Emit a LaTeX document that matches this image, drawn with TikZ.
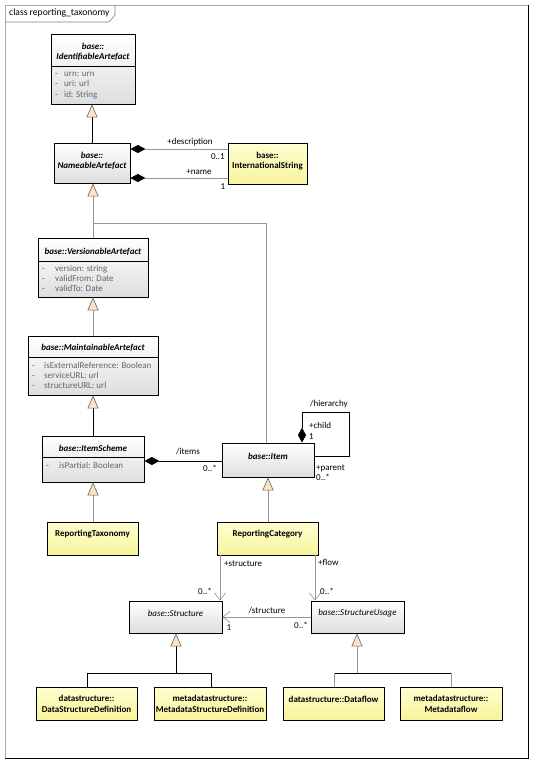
\documentclass[tikz,border=0pt]{standalone}
\usepackage{fontspec}
\setmainfont{Carlito}
\usetikzlibrary{arrows.meta,shadows}

\definecolor{gline}{RGB}{150,150,150}
\definecolor{attrc}{RGB}{95,102,108}
\definecolor{genfill}{RGB}{250,228,200}
\definecolor{genline}{RGB}{110,100,90}
\definecolor{absbot}{RGB}{222,222,222}
\definecolor{yeltop}{RGB}{255,255,210}
\definecolor{yelbot}{RGB}{248,243,155}

\tikzset{
  box/.style={draw=black, line width=0.8pt, rectangle, inner sep=0pt,
    drop shadow={shadow xshift=1.2pt, shadow yshift=-1.2pt, fill=black!55, opacity=0.7}},
  absbox/.style={box, top color=white, bottom color=absbot},
  yelbox/.style={box, top color=yeltop, bottom color=yelbot},
  ttl/.style={inner sep=0pt, align=center, font=\fontsize{9}{10.5}\selectfont\bfseries\itshape},
  ttli/.style={inner sep=0pt, align=center, font=\fontsize{9}{10.5}\selectfont\itshape},
  ttly/.style={inner sep=0pt, align=center, font=\fontsize{9}{10.5}\selectfont\bfseries},
  attr/.style={inner sep=0pt, anchor=west, text height=6.5pt, text depth=1.8pt, text=attrc, font=\fontsize{9}{10}\selectfont},
  lbl/.style={inner sep=0pt, text height=6.5pt, text depth=1.8pt, font=\fontsize{9}{10}\selectfont},
  blk/.style={draw=black, line width=0.8pt},
  gry/.style={draw=gline, line width=0.8pt},
  gen/.style={-{Triangle[length=13pt,width=11pt,fill=genfill,color=genline,line width=0.6pt]}},
  comp/.style={{Diamond[length=15pt,width=8pt,fill=black,color=black]}-},
  nav/.style={-{Straight Barb[length=7pt,width=11pt,line width=0.7pt]}},
}

\begin{document}
\begin{tikzpicture}[x=1pt,y=-1pt]
\useasboundingbox (0,0) rectangle (533,763);
\fill[white] (0,0) rectangle (533,763);

% frame
\draw[gline!80, line width=0.8pt] (5,758) -- (5,5) -- (528,5);
\draw[black, line width=1pt] (528,5) -- (528,758) -- (5,758);
\draw[gray, line width=0.6pt] (5,22) -- (109,22) -- (115,15) -- (115,5);
\node[lbl, anchor=west, font=\fontsize{9.6}{10}\selectfont] (tabT) at (9,13.5) {class reporting\_taxonomy};

% boxes
\node[absbox, minimum width=84pt, minimum height=70pt] (ident) at (93,69) {};
\node[absbox, minimum width=76pt, minimum height=40pt] (nameable) at (92,163) {};
\node[yelbox, minimum width=79pt, minimum height=41pt] (intl) at (267.5,163.5) {};
\node[absbox, minimum width=110pt, minimum height=59pt] (vers) at (93,267.5) {};
\node[absbox, minimum width=130pt, minimum height=59pt] (maint) at (93,365.5) {};
\node[absbox, minimum width=102pt, minimum height=46pt] (isch) at (93,459) {};
\node[absbox, minimum width=92pt, minimum height=34pt] (item) at (268,460) {};
\node[yelbox, minimum width=91pt, minimum height=33pt] (reptax) at (92.5,538.5) {};
\node[yelbox, minimum width=101pt, minimum height=33pt] (repcat) at (267.5,538.5) {};
\node[absbox, minimum width=93pt, minimum height=32pt] (struct) at (175.5,617) {};
\node[absbox, minimum width=93pt, minimum height=32pt] (susage) at (357.5,617) {};
\node[yelbox, minimum width=101pt, minimum height=33pt] (dsd) at (86.5,703.5) {};
\node[yelbox, minimum width=112pt, minimum height=33pt] (msd) at (210,703.5) {};
\node[yelbox, minimum width=101pt, minimum height=33pt] (dflow) at (333.5,703.5) {};
\node[yelbox, minimum width=102pt, minimum height=33pt] (mdflow) at (451,703.5) {};

% compartment dividers
\draw[black, line width=0.6pt] (ident.west |- 0,66) -- (ident.east |- 0,66);
\draw[black, line width=0.6pt] (vers.west |- 0,261) -- (vers.east |- 0,261);
\draw[black, line width=0.6pt] (maint.west |- 0,357) -- (maint.east |- 0,357);
\draw[black, line width=0.6pt] (isch.west |- 0,457) -- (isch.east |- 0,457);

% titles
\node[ttl] (identT) at (93,52) {base::\\IdentifiableArtefact};
\node[ttl] (nameT) at (92,161) {base::\\NameableArtefact};
\node[ttly] (intlT) at (267.5,161) {base::\\InternationalString};
\node[ttl] (versT) at (93,252) {base::VersionableArtefact};
\node[ttl] (maintT) at (93,348) {base::MaintainableArtefact};
\node[ttl] (ischT) at (93,448) {base::ItemScheme};
\node[ttl] (itemT) at (268,456) {base::Item};
\node[ttly] (reptaxT) at (92.5,534) {ReportingTaxonomy};
\node[ttly] (repcatT) at (267.5,534) {ReportingCategory};
\node[ttli] (structT) at (175.5,613) {base::Structure};
\node[ttli] (susageT) at (357.5,613) {base::StructureUsage};
\node[ttly] (dsdT) at (86.5,704) {datastructure::\\DataStructureDefinition};
\node[ttly] (msdT) at (210,704) {metadatastructure::\\MetadataStructureDefinition};
\node[ttly] (dflowT) at (333.5,699) {datastructure::Dataflow};
\node[ttly] (mdflowT) at (451,704) {metadatastructure::\\Metadataflow};

% attributes
\node[attr] (a1) at (55,74) {\makebox[9pt][l]{-}urn: urn};
\node[attr] (a2) at (55,84.5) {\makebox[9pt][l]{-}uri: url};
\node[attr] (a3) at (55,95) {\makebox[9pt][l]{-}id: String};
\node[attr] (a4) at (42,269) {\makebox[13pt][l]{-}version: string};
\node[attr] (a5) at (42,279) {\makebox[13pt][l]{-}validFrom: Date};
\node[attr] (a6) at (42,289) {\makebox[13pt][l]{-}validTo: Date};
\node[attr] (a7) at (32,366) {\makebox[12pt][l]{-}isExternalReference: Boolean};
\node[attr] (a8) at (32,376) {\makebox[12pt][l]{-}serviceURL: url};
\node[attr] (a9) at (32,386) {\makebox[12pt][l]{-}structureURL: url};
\node[attr] (a10) at (46,466) {\makebox[13pt][l]{-}isPartial: Boolean};

% generalizations (upper)
\coordinate (j1) at (93,223);
\draw[blk, gen] (nameable.north -| 92,0) -- (ident.south -| 92,0);
\draw[gry] (vers.north) -- (j1);
\draw[gry, gen] (j1) -- (nameable.south -| j1);
\draw[gry] (item.north -| 266,0) |- (j1);
\draw[gry, gen] (maint.north) -- (vers.south);
\draw[blk, gen] (isch.north) -- (maint.south);
\draw[gry, gen] (reptax.north -| 93,0) -- (isch.south -| 93,0);
\draw[gry, gen] (repcat.north -| 268,0) -- (item.south -| 268,0);

% compositions
\draw[gry, comp] (nameable.east |- 0,149) -- (intl.west |- 0,149);
\draw[gry, comp] (nameable.east |- 0,178) -- (intl.west |- 0,178);
\draw[blk, comp] (isch.east |- 0,461) -- (item.west |- 0,461);
\coordinate (h1) at (349,412);
\draw[blk, comp] (item.north -| 302,0) |- (h1) |- (item.east |- 0,456);

% navigable associations
\draw[gry, nav] (repcat.south -| 220,0) -- (struct.north -| 220,0);
\draw[gry, nav] (repcat.south -| 315,0) -- (susage.north -| 315,0);
\draw[gry, nav] (susage.west |- 0,617) -- (struct.east |- 0,617);

% generalizations (lower)
\coordinate (j2) at (176,673);
\coordinate (j2l) at (87,673);
\coordinate (j2r) at (211,673);
\draw[blk, gen] (j2) -- (struct.south -| j2);
\draw[blk] (dsd.north -| j2l) -- (j2l) -- (j2r) -- (msd.north -| j2r);
\coordinate (j3) at (357,673);
\coordinate (j3l) at (334,673);
\coordinate (j3r) at (451,673);
\draw[gry, gen] (j3) -- (susage.south -| j3);
\draw[blk] (j3l) -- (j3r);
\draw[gry] (dflow.north -| j3l) -- (j3l);
\draw[gry] (mdflow.north -| j3r) -- (j3r);

% labels
\node[lbl] (l1) at (190,142) {+description};
\node[lbl, anchor=east] (l2) at (225,157) {0..1};
\node[lbl] (l3) at (199,172) {+name};
\node[lbl] (l4) at (223,187) {1};
\node[lbl] (l5) at (188,452) {/items};
\node[lbl, anchor=east] (l6) at (217,469) {0..*};
\node[lbl, anchor=west] (l7) at (310,404) {/hierarchy};
\node[lbl, anchor=west] (l8) at (309,426) {+child};
\node[lbl, anchor=west] (l9) at (309,437) {1};
\node[lbl, anchor=west] (l10) at (316,468) {+parent};
\node[lbl, anchor=west] (l11) at (316,478) {0..*};
\node[lbl, anchor=west] (l12) at (224,564) {+structure};
\node[lbl, anchor=west] (l13) at (318,563) {+flow};
\node[lbl, anchor=east] (l14) at (212,592) {0..*};
\node[lbl, anchor=west] (l15) at (320,592) {0..*};
\node[lbl] (l16) at (267,611) {/structure};
\node[lbl] (l17) at (229,628) {1};
\node[lbl, anchor=east] (l18) at (308,626) {0..*};
\end{tikzpicture}
\end{document}
